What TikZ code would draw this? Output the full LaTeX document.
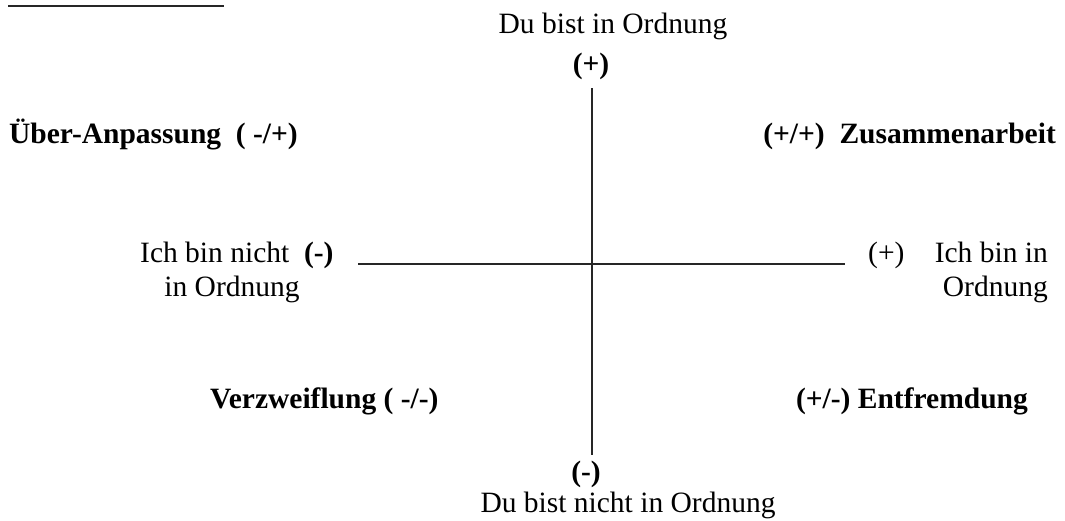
\documentclass[tikz,border=0pt]{standalone}
\usepackage{fontspec}
\setmainfont{Liberation Serif}
\begin{document}
\begin{tikzpicture}[x=1pt,y=-1pt,
  lbl/.style={inner sep=0pt, font=\fontsize{29.5}{35}\selectfont},
  blbl/.style={inner sep=0pt, font=\fontsize{29.5}{35}\selectfont\bfseries},
  axis/.style={line width=1.4pt, black!85},
  rule/.style={line width=2.2pt, black!85}]
\useasboundingbox (0,0) rectangle (1065,520);
% cut-off title underline
\coordinate (ul1) at (8,6);
\coordinate (ul2) at (224,6);
\draw[rule] (ul1) -- (ul2);
% vertical axis labels
\node[lbl, anchor=base] (toptext) at (613,33) {Du bist in Ordnung};
\node[blbl, anchor=base] (topplus) at (591,73) {(+)};
\node[blbl, anchor=base] (botminus) at (586,481) {(-)};
\node[lbl, anchor=base] (bottext) at (628,512) {Du bist nicht in Ordnung};
% axes
\coordinate (vtop) at (592,88);
\coordinate (vbot) at (592,455);
\coordinate (hleft) at (358,264);
\coordinate (hright) at (845,264);
\draw[axis] (vtop) -- (vbot);
\draw[axis] (hleft) -- (hright);
% horizontal axis labels
\node[lbl, anchor=base west] (leftA) at (140,262) {Ich bin nicht\hspace{0.5em}\textbf{(-)}};
\node[lbl, anchor=base] (leftB) at (232,296) {in Ordnung};
\node[lbl, anchor=base west] (rightplus) at (868,262) {(+)};
\node[lbl, anchor=base east] (rightA) at (1048,262) {Ich bin in};
\node[lbl, anchor=base east] (rightB) at (1048,296) {Ordnung};
% quadrant labels
\node[blbl, anchor=base west] (q1) at (9,143) {Über-Anpassung\hspace{0.5em}( -/+)};
\node[blbl, anchor=base east] (q2) at (1056,143) {(+/+)\hspace{0.5em}Zusammenarbeit};
\node[blbl, anchor=base west] (q3) at (210,408) {Verzweiflung ( -/-)};
\node[blbl, anchor=base east] (q4) at (1028,408) {(+/-) Entfremdung};
\end{tikzpicture}
\end{document}
